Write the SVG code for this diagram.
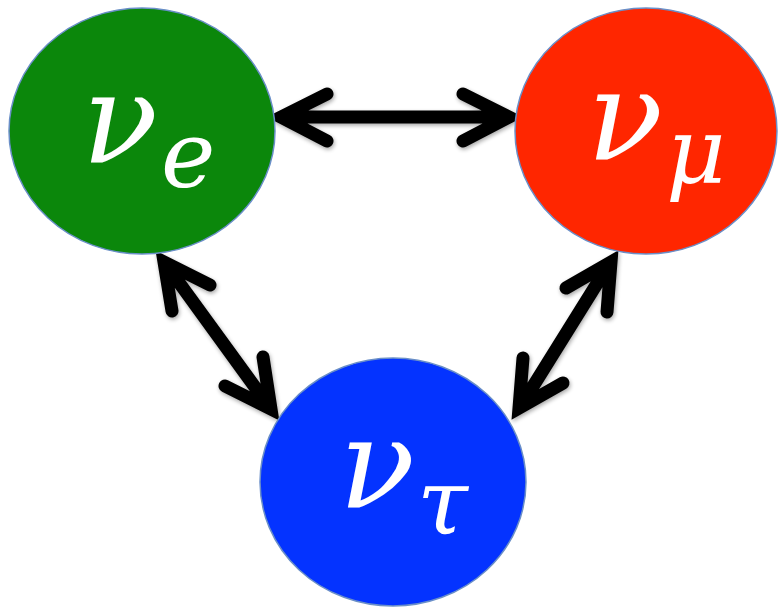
<svg xmlns="http://www.w3.org/2000/svg" width="778" height="610" viewBox="0 0 778 610">
<defs>
<style>
.node{stroke:#6a8fc8;stroke-width:1.5}
.nu{font-family:"DejaVu Serif","Liberation Serif",serif;font-style:italic;fill:#fff;font-size:125px}
.sub{font-family:"DejaVu Serif","Liberation Serif",serif;font-style:italic;fill:#fff;font-size:92px}
.arr{fill:none;stroke:#000;stroke-width:13;stroke-linecap:round;stroke-linejoin:miter;stroke-miterlimit:10}
</style>
<filter id="sh" x="-20%" y="-20%" width="140%" height="140%">
<feGaussianBlur in="SourceAlpha" stdDeviation="2"/>
<feOffset dx="1" dy="2" result="b"/>
<feComponentTransfer><feFuncA type="linear" slope="0.35"/></feComponentTransfer>
<feMerge><feMergeNode/><feMergeNode in="SourceGraphic"/></feMerge>
</filter>
</defs>
<rect width="778" height="610" fill="#fff"/>
<g id="connectors" filter="url(#sh)">
<path class="arr" d="M285 117 H505 M327 94 L281 117 L327 141 M463 94 L509 117 L463 141"/>
<path class="arr" d="M167 266 L268 405 M172 311 L164 262 L210 285 M263 357 L271 409 L225 386"/>
<path class="arr" d="M608 266 L522 404 M566 288 L611 262 L607 312 M523 358 L519 408 L563 383"/>
</g>
<g id="nu-e">
<ellipse class="node" cx="142" cy="131" rx="133" ry="123" fill="#0b870b"/>
<text class="nu" x="82" y="163">ν</text>
<text class="sub" x="161" y="187">e</text>
</g>
<g id="nu-mu">
<ellipse class="node" cx="646" cy="131" rx="131" ry="123" fill="#ff2600"/>
<text class="nu" x="587" y="160">ν</text>
<text class="sub" x="666" y="183">μ</text>
</g>
<g id="nu-tau">
<ellipse class="node" cx="393" cy="482" rx="133" ry="124" fill="#0433ff"/>
<text class="nu" x="339" y="508">ν</text>
<text class="sub" x="417" y="534">τ</text>
</g>
</svg>
